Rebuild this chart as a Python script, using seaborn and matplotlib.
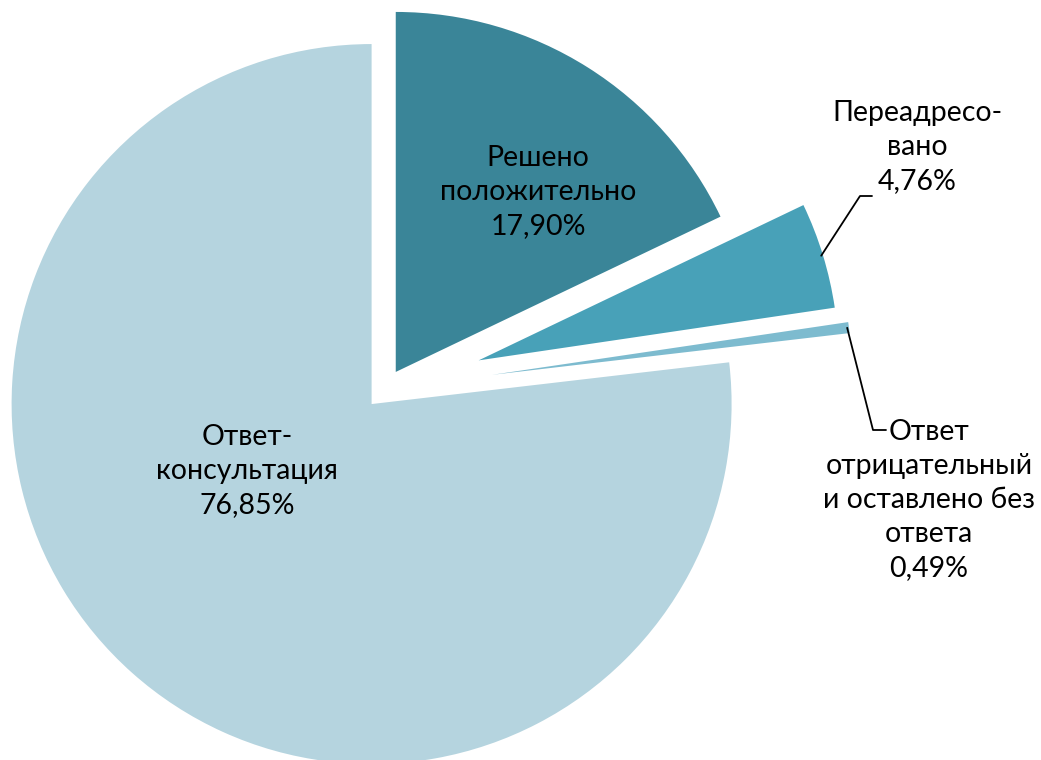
import numpy as np
import matplotlib
matplotlib.use("Agg")
import matplotlib.pyplot as plt
import seaborn as sns

# ---- data ----
categories = ["Решено положительно", "Переадресовано",
              "Ответ отрицательный и оставлено без ответа", "Ответ-консультация"]
values = [17.90, 4.76, 0.49, 76.85]
label_texts = ["Решено\nположительно", "Переадресо-\nвано",
               "Ответ\nотрицательный\nи оставлено без\nответа", "Ответ-\nконсультация"]
colors_hex = ["#3A8598", "#48A1B8", "#7DBBCF", "#B5D4DF"]

sns.set_theme(style="white")
plt.rcParams['font.family'] = ['Lato', 'DejaVu Sans']

W, H = 1041, 760
fig = plt.figure(figsize=(W / 100, H / 100), dpi=100)
ax = fig.add_axes([0, 0, 1, 1])

R = 360.0
center = (385.0, 371.0)
explode_frac = [0.056, 0.272, 0.300, 0.056]
explode = [f * R for f in explode_frac]

palette = sns.color_palette(colors_hex)
wedges, _ = ax.pie(values, explode=explode, colors=palette, startangle=90,
                   counterclock=False, radius=R, center=center,
                   wedgeprops=dict(linewidth=0))
ax.set_xlim(0, W)
ax.set_ylim(0, H)
ax.set_aspect('equal')
ax.axis('off')

def fmt(v):
    return f"{v:.2f}%".replace(".", ",")

fs = 20.5
ls = 1.38
# inside labels
ax.text(538, 568, label_texts[0] + "\n" + fmt(values[0]), ha='center', va='center',
        fontsize=fs, linespacing=ls, color='black')
ax.text(247, 289, label_texts[3] + "\n" + fmt(values[3]), ha='center', va='center',
        fontsize=fs, linespacing=ls, color='black')
# outside labels
ax.text(917, 613, label_texts[1] + "\n" + fmt(values[1]), ha='center', va='center',
        fontsize=fs, linespacing=ls, color='black')
ax.text(929, 260, label_texts[2] + "\n" + fmt(values[2]), ha='center', va='center',
        fontsize=fs, linespacing=ls, color='black')

def arc_point(w, frac_r=1.0):
    th = np.deg2rad((w.theta1 + w.theta2) / 2)
    cx, cy = w.center
    return cx + w.r * frac_r * np.cos(th), cy + w.r * frac_r * np.sin(th)

# leader lines
p1 = arc_point(wedges[1], 0.995)
ax.plot([p1[0], 860, 872], [p1[1], 564, 564], color='black', lw=1.3)
p2 = arc_point(wedges[2], 0.995)
ax.plot([p2[0], 873, 886], [p2[1], 330, 330], color='black', lw=1.3)

fig.savefig("out.png", dpi=100)
